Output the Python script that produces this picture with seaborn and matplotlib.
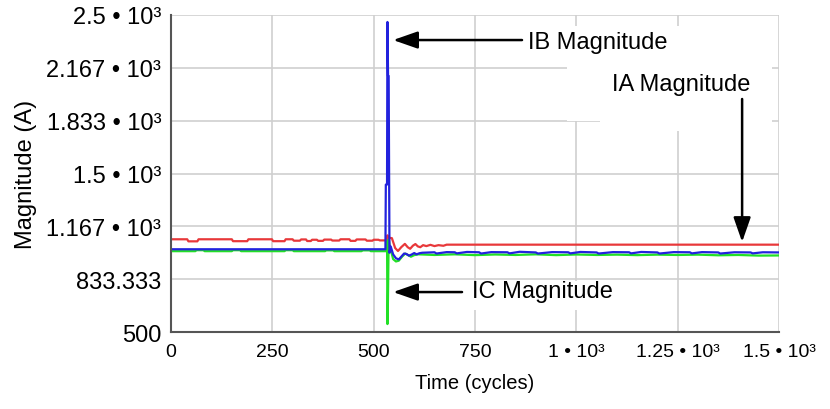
import numpy as np
import pandas as pd
import matplotlib
matplotlib.use("Agg")
import matplotlib.pyplot as plt
import seaborn as sns
from matplotlib import font_manager
from matplotlib.patches import Rectangle

# time (cycles) and magnitude (A)
ia_t = [0, 40, 43, 65, 68, 150, 153, 188, 191, 249, 252, 280, 283, 300, 303, 318, 321, 333, 336, 345,
        348, 360, 363, 375, 378, 395, 398, 415, 418, 440, 443, 455, 458, 480, 483, 497, 500, 512, 515, 529,
        532, 534, 536, 545, 553, 560, 568, 577, 584, 590, 597, 603, 609, 615, 622, 630, 640, 650, 660, 672,
        680, 1500]
ia_v = [1085, 1085, 1072, 1072, 1085, 1085, 1073, 1073, 1085, 1085, 1073, 1073, 1085, 1085, 1076, 1076, 1084, 1084, 1074, 1074,
        1082, 1082, 1075, 1075, 1083, 1083, 1077, 1077, 1085, 1085, 1075, 1075, 1084, 1084, 1076, 1076, 1082, 1082, 1078, 1078,
        1090, 1110, 1095, 1092, 1030, 1011, 1035, 1056, 1035, 1025, 1045, 1055, 1040, 1035, 1048, 1042, 1050, 1042, 1048, 1044,
        1051, 1051]

ib_t = [0, 529, 530, 533, 534, 535.5, 537, 539, 542, 548, 555, 562, 568, 575, 581, 587, 593, 600, 606, 613,
        620, 650, 655, 680, 700, 705, 730, 760, 765, 790, 830, 835, 860, 900, 905, 940, 980, 985, 1010, 1050,
        1055, 1090, 1130, 1135, 1160, 1200, 1205, 1240, 1280, 1285, 1310, 1350, 1355, 1390, 1430, 1435, 1460, 1500]
ib_v = [1022, 1022, 1430, 1430, 2456, 2115, 2115, 1000, 1040, 990, 965, 958, 975, 995, 992, 982, 988, 998, 990, 997,
        1000, 1003, 995, 1004, 1003, 996, 1005, 1003, 995, 1004, 1003, 996, 1006, 1002, 995, 1004, 1003, 996, 1005, 1002,
        995, 1004, 1003, 996, 1005, 1002, 995, 1004, 1003, 996, 1004, 1002, 995, 1003, 1002, 996, 1003, 1002]

ic_t = [0, 60, 63, 80, 83, 150, 153, 170, 173, 280, 283, 300, 303, 380, 383, 400, 403, 470, 473, 490,
        493, 531, 533, 534, 535, 537, 540, 548, 555, 562, 570, 578, 585, 592, 600, 610, 650, 700, 750, 800,
        850, 900, 950, 1000, 1050, 1100, 1150, 1200, 1250, 1300, 1350, 1400, 1450, 1500]
ic_v = [1010, 1010, 1016, 1016, 1010, 1010, 1016, 1016, 1010, 1010, 1016, 1016, 1010, 1010, 1015, 1015, 1010, 1010, 1015, 1015,
        1010, 1010, 1090, 550, 660, 1085, 1040, 960, 945, 950, 975, 995, 985, 975, 985, 990, 986, 990, 985, 989,
        986, 990, 985, 989, 986, 988, 985, 988, 986, 988, 984, 986, 982, 983]

x_ticks = [0, 250, 500, 750, 1000, 1250, 1500]
x_labels = ["0", "250", "500", "750", "1 \u2022 10\u00b3", "1.25 \u2022 10\u00b3", "1.5 \u2022 10\u00b3"]
y_ticks = [500, 833.333, 1166.667, 1500, 1833.333, 2166.667, 2500]
y_labels = ["500", "833.333", "1.167 \u2022 10\u00b3", "1.5 \u2022 10\u00b3",
            "1.833 \u2022 10\u00b3", "2.167 \u2022 10\u00b3", "2.5 \u2022 10\u00b3"]

sns.set_theme(style="whitegrid")
plt.rcParams["font.family"] = ["Liberation Sans", "DejaVu Sans"]
plt.rcParams["text.color"] = "black"
plt.rcParams["axes.labelcolor"] = "black"

names = {f.name for f in font_manager.fontManager.ttflist}
if "Liberation Sans Narrow" in names:
    xfont, xsize = ["Liberation Sans Narrow", "DejaVu Sans"], 15.75
else:
    xfont, xsize = ["Liberation Sans", "DejaVu Sans"], 14

fig = plt.figure(figsize=(8.3, 4.1), dpi=100)
ax = fig.add_axes([171/830, 1 - 333/410, 608/830, 317/410])

df_c = pd.DataFrame({"t": ic_t, "v": ic_v})
df_b = pd.DataFrame({"t": ib_t, "v": ib_v})
df_a = pd.DataFrame({"t": ia_t, "v": ia_v})
sns.lineplot(data=df_c, x="t", y="v", color="#22e026", lw=1.6, estimator=None, sort=False, ax=ax)
sns.lineplot(data=df_a, x="t", y="v", color="#e8383a", lw=1.6, estimator=None, sort=False, ax=ax)
sns.lineplot(data=df_b, x="t", y="v", color="#2222dd", lw=1.6, estimator=None, sort=False, ax=ax)

ax.set_xlim(0, 1500)
ax.set_ylim(500, 2500)
ax.set_xticks(x_ticks)
ax.set_xticklabels(x_labels, family=xfont, fontsize=xsize)
ax.set_yticks(y_ticks)
ax.set_yticklabels(y_labels, fontsize=17)
ax.set_xlabel("Time (cycles)", family=xfont, fontsize=xsize + 0.5, labelpad=9, color="black")
ax.set_ylabel("Magnitude (A)", fontsize=17, labelpad=7, color="black")

ax.grid(True, color="#cfcfcf", lw=1.2)
ax.set_axisbelow(True)
for s in ["top", "right"]:
    ax.spines[s].set_visible(False)
for s in ["left", "bottom"]:
    ax.spines[s].set_color("#555555")
    ax.spines[s].set_linewidth(1.5)
ax.tick_params(axis="x", direction="inout", length=6, width=1.2, pad=5, colors="black")
ax.tick_params(axis="y", direction="out", length=6, width=1.2, pad=1, colors="black")
ax.tick_params(axis="both", which="both", color="#555555")

# white patches behind the callout labels
for (x0, y0, w, h) in [(0.651, 0.666, 0.337, 0.299), (0.706, 0.634, 0.282, 0.032), (0.479, 0.069, 0.268, 0.092)]:
    ax.add_patch(Rectangle((x0, y0), w, h, transform=ax.transAxes, facecolor="white",
                           edgecolor="none", zorder=1))

arrow = dict(arrowstyle="-|>,head_length=1.0,head_width=0.35", mutation_scale=15,
             color="black", lw=1.8, shrinkA=0, shrinkB=0)
ax.annotate("", xy=(548, 2342), xytext=(866, 2342), arrowprops=arrow, zorder=5)
ax.text(881, 2330, "IB Magnitude", fontsize=17, va="center", ha="left", color="black", zorder=5)
ax.annotate("", xy=(548, 752), xytext=(718, 752), arrowprops=arrow, zorder=5)
ax.text(743, 759, "IC Magnitude", fontsize=17, va="center", ha="left", color="black", zorder=5)
ax.annotate("", xy=(1409, 1068), xytext=(1409, 1970), arrowprops=arrow, zorder=5)
ax.text(1258, 2065, "IA Magnitude", fontsize=17, va="center", ha="center", color="black", zorder=5)

fig.savefig("out.png", dpi=100)
